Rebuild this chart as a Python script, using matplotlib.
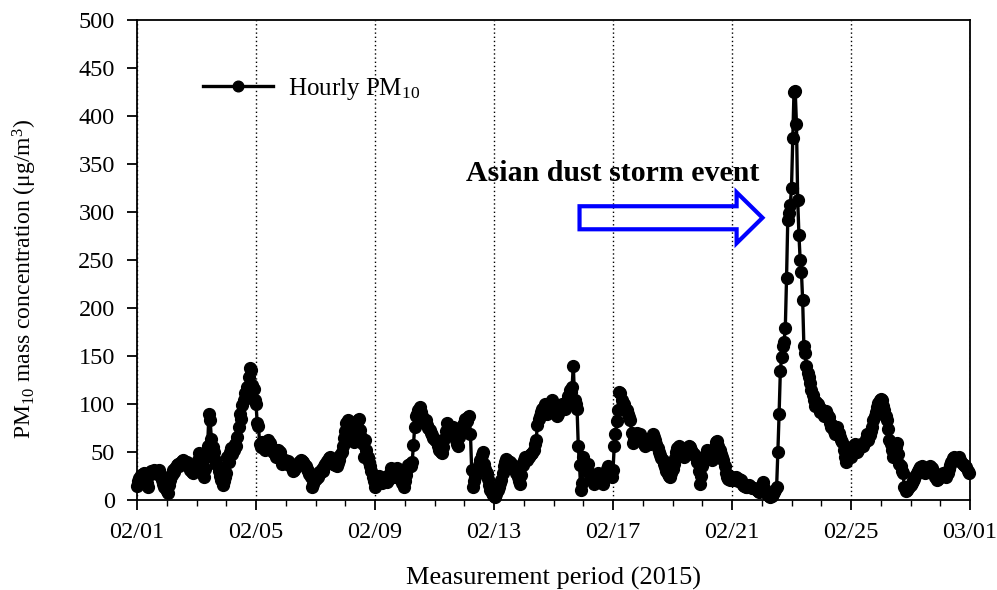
import numpy as np
import pandas as pd
import matplotlib
matplotlib.use("Agg")
import matplotlib.pyplot as plt
import matplotlib.dates as mdates
from matplotlib.patches import FancyArrow

plt.rcParams["font.family"] = "Liberation Serif"
plt.rcParams["mathtext.fontset"] = "custom"
plt.rcParams["mathtext.rm"] = "Liberation Serif"
plt.rcParams["mathtext.it"] = "Liberation Serif:italic"
plt.rcParams["mathtext.bf"] = "Liberation Serif:bold"

# hourly PM10 (ug/m3), one row per day, 02/01 .. 02/28 2015
pm10 = [
    15, 20, 23, 26, 24, 27, 28, 22, 18, 14, 26, 30, 28, 30, 31, 29, 27, 30, 31, 26, 21, 17, 14, 11,
    9, 7, 16, 21, 26, 31, 29, 33, 36, 38, 35, 39, 41, 42, 40, 38, 40, 37, 34, 31, 29, 28, 32, 35,
    36, 42, 49, 44, 38, 35, 24, 32, 45, 56, 90, 83, 64, 55, 50, 42, 38, 35, 30, 25, 21, 16, 20, 24,
    28, 45, 40, 50, 54, 48, 52, 58, 56, 66, 76, 90, 84, 99, 104, 111, 106, 118, 128, 137, 135, 120, 116, 104,
    100, 80, 77, 58, 55, 60, 57, 52, 56, 60, 62, 59, 55, 52, 50, 48, 45, 47, 52, 50, 42, 38, 40, 42,
    40, 38, 41, 38, 35, 33, 30, 31, 34, 36, 38, 40, 42, 41, 40, 38, 35, 32, 30, 27, 24, 14, 17, 20,
    22, 26, 24, 29, 28, 32, 30, 35, 37, 41, 39, 44, 45, 42, 38, 40, 36, 35, 39, 42, 47, 50, 56, 65,
    72, 80, 83, 76, 70, 66, 62, 60, 64, 72, 83, 84, 73, 66, 58, 45, 63, 52, 45, 40, 35, 30, 24, 20,
    14, 18, 22, 25, 23, 20, 18, 22, 24, 21, 19, 22, 28, 33, 30, 26, 24, 28, 33, 30, 27, 22, 18, 14,
    20, 26, 32, 36, 38, 35, 40, 57, 76, 87, 90, 94, 97, 92, 88, 84, 80, 83, 78, 75, 73, 70, 68, 65,
    63, 62, 60, 56, 52, 50, 49, 55, 64, 72, 80, 76, 74, 70, 72, 76, 68, 62, 58, 56, 66, 72, 76, 78,
    80, 84, 82, 86, 87, 69, 31, 14, 20, 24, 28, 32, 36, 42, 47, 50, 38, 32, 28, 22, 16, 10, 7, 5,
    4, 3, 6, 10, 14, 18, 21, 28, 35, 40, 43, 41, 39, 40, 38, 36, 34, 32, 28, 24, 20, 17, 26, 36,
    42, 45, 44, 42, 45, 47, 48, 49, 52, 58, 62, 78, 84, 88, 92, 95, 97, 100, 95, 90, 92, 96, 100, 104,
    100, 96, 92, 88, 90, 94, 98, 100, 97, 95, 98, 102, 108, 115, 112, 118, 140, 104, 100, 95, 56, 36, 10, 18,
    45, 40, 35, 31, 38, 28, 25, 22, 20, 17, 22, 25, 28, 26, 22, 20, 17, 22, 27, 32, 35, 30, 26, 24,
    31, 56, 69, 82, 94, 113, 111, 104, 97, 100, 96, 94, 90, 86, 83, 70, 59, 64, 68, 70, 66, 62, 69, 65,
    60, 58, 56, 60, 64, 62, 58, 64, 69, 66, 62, 58, 54, 50, 47, 44, 42, 38, 34, 30, 27, 25, 24, 28,
    32, 38, 44, 50, 54, 56, 52, 48, 46, 45, 48, 52, 54, 56, 55, 52, 50, 48, 46, 45, 40, 30, 17, 25,
    35, 42, 46, 48, 52, 50, 46, 44, 42, 48, 55, 60, 61, 56, 52, 48, 45, 42, 35, 28, 24, 22, 21, 23,
    24, 21, 22, 24, 22, 20, 22, 21, 18, 16, 15, 14, 14, 15, 16, 14, 12, 12, 13, 11, 10, 9, 8, 10,
    14, 19, 12, 8, 6, 5, 4, 3, 4, 6, 8, 10, 14, 50, 90, 134, 149, 160, 165, 179, 231, 292, 299, 307,
    325, 377, 425, 426, 392, 313, 276, 250, 238, 208, 160, 153, 140, 132, 128, 122, 115, 109, 104, 98, 102, 100, 96, 92,
    95, 92, 88, 90, 93, 90, 86, 80, 76, 78, 72, 69, 72, 76, 70, 66, 62, 60, 52, 45, 40, 44, 48, 50,
    45, 52, 56, 58, 54, 50, 52, 55, 58, 56, 56, 60, 64, 69, 62, 68, 72, 76, 83, 87, 92, 97, 101, 104,
    105, 104, 98, 94, 88, 83, 74, 62, 58, 52, 45, 50, 55, 59, 48, 38, 35, 30, 28, 14, 9, 10, 12, 14,
    16, 18, 20, 22, 25, 28, 30, 32, 34, 35, 33, 30, 28, 30, 32, 34, 35, 33, 30, 27, 24, 21, 22, 24,
    25, 26, 28, 27, 25, 24, 28, 32, 36, 40, 44, 45, 43, 42, 44, 45, 42, 40, 38, 36, 35, 34, 30, 28,
]
times = pd.date_range("2015-02-01", periods=len(pm10), freq="h")

fig = plt.figure(figsize=(9.97, 5.9), dpi=100)
ax = fig.add_axes([137 / 997, 90 / 590, 833 / 997, 480 / 590])

ax.plot(times, pm10, "-o", color="black", lw=2.4, ms=8.5, clip_on=False,
        zorder=3, label="Hourly PM$_{10}$")

ax.set_xlim(pd.Timestamp("2015-02-01"), pd.Timestamp("2015-03-01"))
ax.set_ylim(0, 500)
ax.set_yticks(np.arange(0, 501, 50))
ax.xaxis.set_major_locator(mdates.DayLocator(bymonthday=[1, 5, 9, 13, 17, 21, 25]))
ax.xaxis.set_major_formatter(mdates.DateFormatter("%m/%d"))
ax.xaxis.set_minor_locator(mdates.DayLocator())
ax.grid(axis="x", which="major", linestyle=(0, (1, 2)), color="black", lw=1)

ax.tick_params(which="major", direction="out", length=7, width=1.3, labelsize=17.5)
ax.tick_params(axis="y", which="major", pad=9)
ax.tick_params(axis="x", which="major", pad=9)
ax.tick_params(axis="x", which="minor", direction="out", length=4, width=1.0)
for s in ax.spines.values():
    s.set_linewidth(1.3)

ax.set_xlabel("Measurement period (2015)", fontsize=19)
ax.xaxis.set_label_coords(0.5, -0.14)
ax.set_ylabel("PM$_{10}$ mass concentration (μg/m$^3$)", fontsize=17)
ax.yaxis.set_label_coords(-0.118, 0.46)

ax.legend(loc="center left", bbox_to_anchor=(0.079, 0.856), frameon=False,
          fontsize=18, handlelength=2.8, handletextpad=0.6, borderpad=0,
          borderaxespad=0, markerscale=0.9)

# dust event label and block arrow
ax.text(pd.Timestamp("2015-02-17"), 340, "Asian dust storm event", fontsize=21.5,
        fontweight="bold", ha="center", va="center")
x0 = mdates.date2num(pd.Timestamp("2015-02-15 21:00"))
arrow = FancyArrow(x0, 294, 6.15, 0, width=24, head_width=53, head_length=0.87,
                   length_includes_head=True, facecolor="none", edgecolor="blue",
                   lw=3, zorder=2)
ax.add_patch(arrow)

fig.savefig("out.png", dpi=100)
